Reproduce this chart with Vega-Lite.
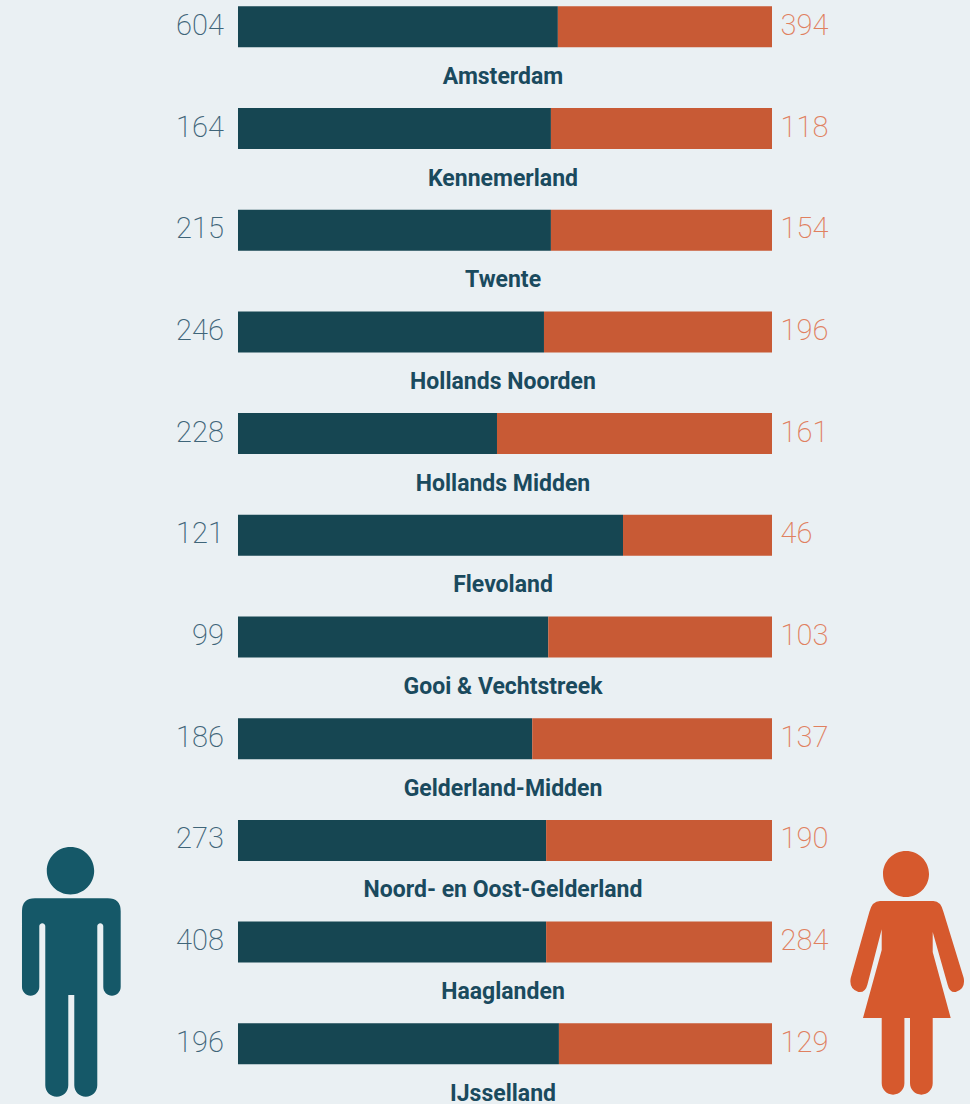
{"$schema":"https://vega.github.io/schema/vega-lite/v6.json","autosize":{"type":"none"},"width":970,"height":1104,"padding":0,"background":"#eaf0f3","config":{"view":{"stroke":null}},"datasets":{"regions":[{"region":"Amsterdam","row":0,"men":604,"women":394,"menShare":0.599,"start":0,"end":1},{"region":"Kennemerland","row":1,"men":164,"women":118,"menShare":0.586,"start":0,"end":1},{"region":"Twente","row":2,"men":215,"women":154,"menShare":0.586,"start":0,"end":1},{"region":"Hollands Noorden","row":3,"men":246,"women":196,"menShare":0.573,"start":0,"end":1},{"region":"Hollands Midden","row":4,"men":228,"women":161,"menShare":0.485,"start":0,"end":1},{"region":"Flevoland","row":5,"men":121,"women":46,"menShare":0.721,"start":0,"end":1},{"region":"Gooi & Vechtstreek","row":6,"men":99,"women":103,"menShare":0.581,"start":0,"end":1},{"region":"Gelderland-Midden","row":7,"men":186,"women":137,"menShare":0.551,"start":0,"end":1},{"region":"Noord- en Oost-Gelderland","row":8,"men":273,"women":190,"menShare":0.577,"start":0,"end":1},{"region":"Haaglanden","row":9,"men":408,"women":284,"menShare":0.577,"start":0,"end":1},{"region":"IJsselland","row":10,"men":196,"women":129,"menShare":0.601,"start":0,"end":1}],"figures":[{"figure":"man","pos":-0.3122,"row":9.294},{"figure":"woman","pos":1.2532,"row":9.294}]},"data":{"name":"regions"},"encoding":{"y":{"field":"row","type":"quantitative","scale":{"domain":[10.5919,-0.26352],"nice":false,"zero":false,"padding":0},"axis":null}},"layer":[{"mark":{"type":"bar","orient":"horizontal","size":41,"color":"#164652"},"encoding":{"x":{"field":"start","type":"quantitative","scale":{"domain":[-0.44569,1.37079],"nice":false,"zero":false,"padding":0},"axis":null},"x2":{"field":"menShare"}}},{"mark":{"type":"bar","orient":"horizontal","size":41,"color":"#c85a35"},"encoding":{"x":{"field":"menShare","type":"quantitative"},"x2":{"field":"end"}}},{"mark":{"type":"text","align":"right","baseline":"middle","dx":-14,"dy":-1,"font":"Roboto","fontWeight":200,"fontSize":29,"color":"#3f6579"},"encoding":{"x":{"field":"start","type":"quantitative"},"text":{"field":"men"}}},{"mark":{"type":"text","align":"left","baseline":"middle","dx":8.5,"dy":-1,"font":"Roboto","fontWeight":200,"fontSize":29,"color":"#e0805f"},"encoding":{"x":{"field":"end","type":"quantitative"},"text":{"field":"women"}}},{"mark":{"type":"text","align":"center","baseline":"middle","dy":50,"dx":-2,"font":"Roboto","fontWeight":700,"fontSize":23,"color":"#1a4a5e"},"encoding":{"x":{"datum":0.5,"type":"quantitative"},"text":{"field":"region"}}},{"data":{"name":"figures"},"mark":{"type":"point","filled":true,"opacity":1,"strokeWidth":0,"size":4},"encoding":{"x":{"field":"pos","type":"quantitative"},"shape":{"field":"figure","type":"nominal","legend":null,"scale":{"domain":["man","woman"],"range":["M-24.5 -101.3A23.7 23.7 0 1 0 22.9 -101.3A23.7 23.7 0 1 0 -24.5 -101.3ZM-36.3 -73.7L36.4 -73.7Q49.4 -73.7 49.4 -60.7L49.4 15A8.7 8.7 0 0 1 32 15L32 -45.7A3 3 0 0 0 26 -45.7L26 113.2A11.5 11.5 0 0 1 3 113.2L3 23L-3 23L-3 113.2A11.5 11.5 0 0 1 -26 113.2L-26 -45.7A3 3 0 0 0 -32 -45.7L-32 15A8.65 8.65 0 0 1 -49.3 15L-49.3 -60.7Q-49.3 -73.7 -36.3 -73.7Z","M-24.2 -98A23 23 0 1 0 21.8 -98A23 23 0 1 0 -24.2 -98ZM-27.2 -71L26.2 -71Q33.5 -71 36.2 -60.3L56.5 6Q58.5 17 48.5 20Q42.5 21 40.5 13L25.5 -40L25.5 -20L43.5 46L25.5 46L25.5 111.3A11.35 11.35 0 0 1 2.8 111.3L2.8 46L-2.8 46L-2.8 111.3A11.35 11.35 0 0 1 -25.5 111.3L-25.5 46L-44.2 46L-25.5 -22L-25.5 -42.7L-39.9 13Q-42 21 -48.8 20Q-58.5 17 -56.5 6L-37.8 -60.3Q-35 -71 -27.2 -71Z"]}},"color":{"field":"figure","type":"nominal","legend":null,"scale":{"domain":["man","woman"],"range":["#155868","#d6592d"]}}}}]}
